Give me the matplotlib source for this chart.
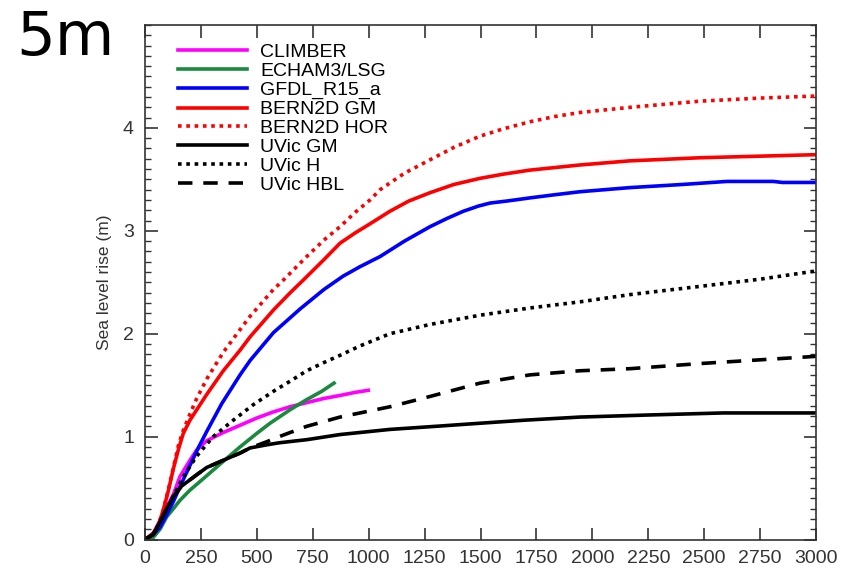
import matplotlib
matplotlib.use("Agg")
import matplotlib.pyplot as plt
from matplotlib.ticker import MultipleLocator

plt.rcParams["font.family"] = ["Liberation Sans", "DejaVu Sans"]

# years since start / sea level rise (m)
climber_x = [0, 37, 82, 127, 156, 201, 231, 276, 350, 425, 499, 574, 648, 723, 798, 872, 940, 998]
climber_y = [0, 0.06, 0.25, 0.44, 0.61, 0.77, 0.87, 0.96, 1.04, 1.11, 1.18, 1.24, 1.29, 1.33, 1.37, 1.40, 1.43, 1.45]

echam_x = [0, 37, 67, 97, 127, 156, 201, 276, 350, 425, 499, 559, 648, 723, 790, 845]
echam_y = [0, 0.02, 0.10, 0.22, 0.30, 0.38, 0.48, 0.62, 0.76, 0.90, 1.03, 1.13, 1.26, 1.36, 1.44, 1.52]

gfdl_x = [0, 37, 67, 97, 127, 164, 201, 238, 276, 343, 425, 470, 574, 693, 800, 886, 960,
          1051, 1160, 1274, 1350, 1423, 1490, 1543, 1620, 1721, 1830, 1945, 2168, 2400,
          2601, 2809, 2850, 3000]
gfdl_y = [0, 0.05, 0.12, 0.24, 0.37, 0.55, 0.72, 0.89, 1.05, 1.32, 1.60, 1.74, 2.01, 2.24, 2.43,
          2.56, 2.65, 2.75, 2.90, 3.04, 3.12, 3.19, 3.24, 3.27, 3.29, 3.32, 3.35, 3.38, 3.42, 3.45,
          3.48, 3.48, 3.47, 3.47]

bern_gm_x = [0, 37, 60, 82, 104, 127, 150, 171, 201, 231, 276, 350, 425, 470, 574, 650, 707,
             800, 872, 940, 1000, 1095, 1180, 1274, 1380, 1498, 1600, 1721, 1945, 2168, 2481, 3000]
bern_gm_y = [0, 0.06, 0.14, 0.29, 0.47, 0.69, 0.88, 1.03, 1.16, 1.26, 1.41, 1.64, 1.84, 1.97, 2.23,
             2.40, 2.52, 2.72, 2.88, 2.98, 3.06, 3.19, 3.29, 3.37, 3.45, 3.51, 3.55, 3.59, 3.64, 3.68,
             3.71, 3.74]

bern_hor_x = [0, 37, 60, 82, 104, 127, 150, 171, 201, 231, 276, 350, 425, 470, 574, 618, 723,
              800, 872, 940, 1006, 1051, 1160, 1274, 1380, 1498, 1600, 1721, 1830, 1945, 2168,
              2481, 2750, 3000]
bern_hor_y = [0, 0.06, 0.14, 0.29, 0.48, 0.70, 0.92, 1.06, 1.22, 1.37, 1.56, 1.82, 2.04, 2.17, 2.43,
              2.52, 2.75, 2.91, 3.04, 3.18, 3.30, 3.40, 3.56, 3.69, 3.81, 3.92, 3.99, 4.06, 4.11,
              4.15, 4.20, 4.26, 4.29, 4.31]

uvic_gm_x = [0, 37, 67, 97, 127, 164, 201, 238, 276, 350, 425, 470, 544, 600, 723, 872, 1095,
             1300, 1498, 1700, 1945, 2250, 2585, 3000]
uvic_gm_y = [0, 0.05, 0.17, 0.30, 0.42, 0.52, 0.58, 0.64, 0.70, 0.77, 0.84, 0.89, 0.92, 0.94, 0.97,
             1.02, 1.07, 1.10, 1.13, 1.16, 1.19, 1.21, 1.23, 1.23]

uvic_h_x = [0, 37, 67, 97, 127, 171, 231, 305, 395, 484, 574, 650, 723, 800, 872, 960, 1095,
            1274, 1498, 1721, 1945, 2168, 2481, 2750, 3000]
uvic_h_y = [0, 0.05, 0.17, 0.30, 0.42, 0.61, 0.81, 1.00, 1.16, 1.31, 1.44, 1.54, 1.64, 1.72, 1.79,
            1.88, 2.00, 2.09, 2.18, 2.25, 2.31, 2.38, 2.46, 2.53, 2.61]

uvic_hbl_x = [0, 37, 67, 97, 127, 164, 201, 238, 276, 350, 425, 470, 544, 600, 723, 872, 1095,
              1274, 1498, 1721, 1945, 2168, 2481, 3000]
uvic_hbl_y = [0, 0.05, 0.17, 0.30, 0.42, 0.52, 0.58, 0.64, 0.70, 0.77, 0.84, 0.89, 0.95, 1.00, 1.10,
              1.19, 1.29, 1.39, 1.52, 1.60, 1.64, 1.66, 1.71, 1.78]

fig = plt.figure(figsize = (8.56, 5.70), dpi = 100)
ax = fig.add_axes([0.1694, 0.0535, 0.7839, 0.9026])

lw = 2.6
dots = (0, (1, 1.3))
ax.plot(climber_x, climber_y, color = "#ff00ff", lw = lw, label = "CLIMBER")
ax.plot(echam_x, echam_y, color = "#1b8a3e", lw = lw, label = "ECHAM3/LSG")
ax.plot(gfdl_x, gfdl_y, color = "#0000ff", lw = lw, label = "GFDL_R15_a")
ax.plot(bern_gm_x, bern_gm_y, color = "#ff0000", lw = lw, label = "BERN2D GM")
ax.plot(bern_hor_x, bern_hor_y, color = "#ff0000", lw = lw, ls = dots, label = "BERN2D HOR")
ax.plot(uvic_gm_x, uvic_gm_y, color = "black", lw = lw, label = "UVic GM")
ax.plot(uvic_h_x, uvic_h_y, color = "black", lw = lw, ls = dots, label = "UVic H")
ax.plot(uvic_hbl_x, uvic_hbl_y, color = "black", lw = lw, ls = (0, (4, 3)), label = "UVic HBL")

ax.set_xlim(0, 3000)
ax.set_ylim(0, 5)
ax.xaxis.set_major_locator(MultipleLocator(250))
ax.set_yticks([0, 1, 2, 3, 4])
ax.yaxis.set_minor_locator(MultipleLocator(0.1))
ax.tick_params(which = "both", direction = "in", top = True, right = True, colors = "#333333")
ax.tick_params(axis = "x", labelsize = 14, pad = 7.5)
ax.tick_params(axis = "y", labelsize = 14, pad = 8)
ax.tick_params(which = "major", length = 9, width = 1.2)
ax.tick_params(which = "minor", length = 4.5, width = 1.0)
for spine in ax.spines.values():
	spine.set_color("#333333")
	spine.set_linewidth(1.2)

ax.set_ylabel("Sea level rise (m)", fontsize = 12.5, color = "#333333", labelpad = 8)

ax.legend(loc = "upper left", bbox_to_anchor = (0.0375, 0.979), frameon = False,
          fontsize = 14, handlelength = 3.55, handletextpad = 0.67,
          labelspacing = 0.07, borderaxespad = 0)

fig.text(0.019, 0.985, "5m", fontsize = 44, family = "DejaVu Sans", va = "top", ha = "left")

fig.savefig("out.png", dpi = 100)
